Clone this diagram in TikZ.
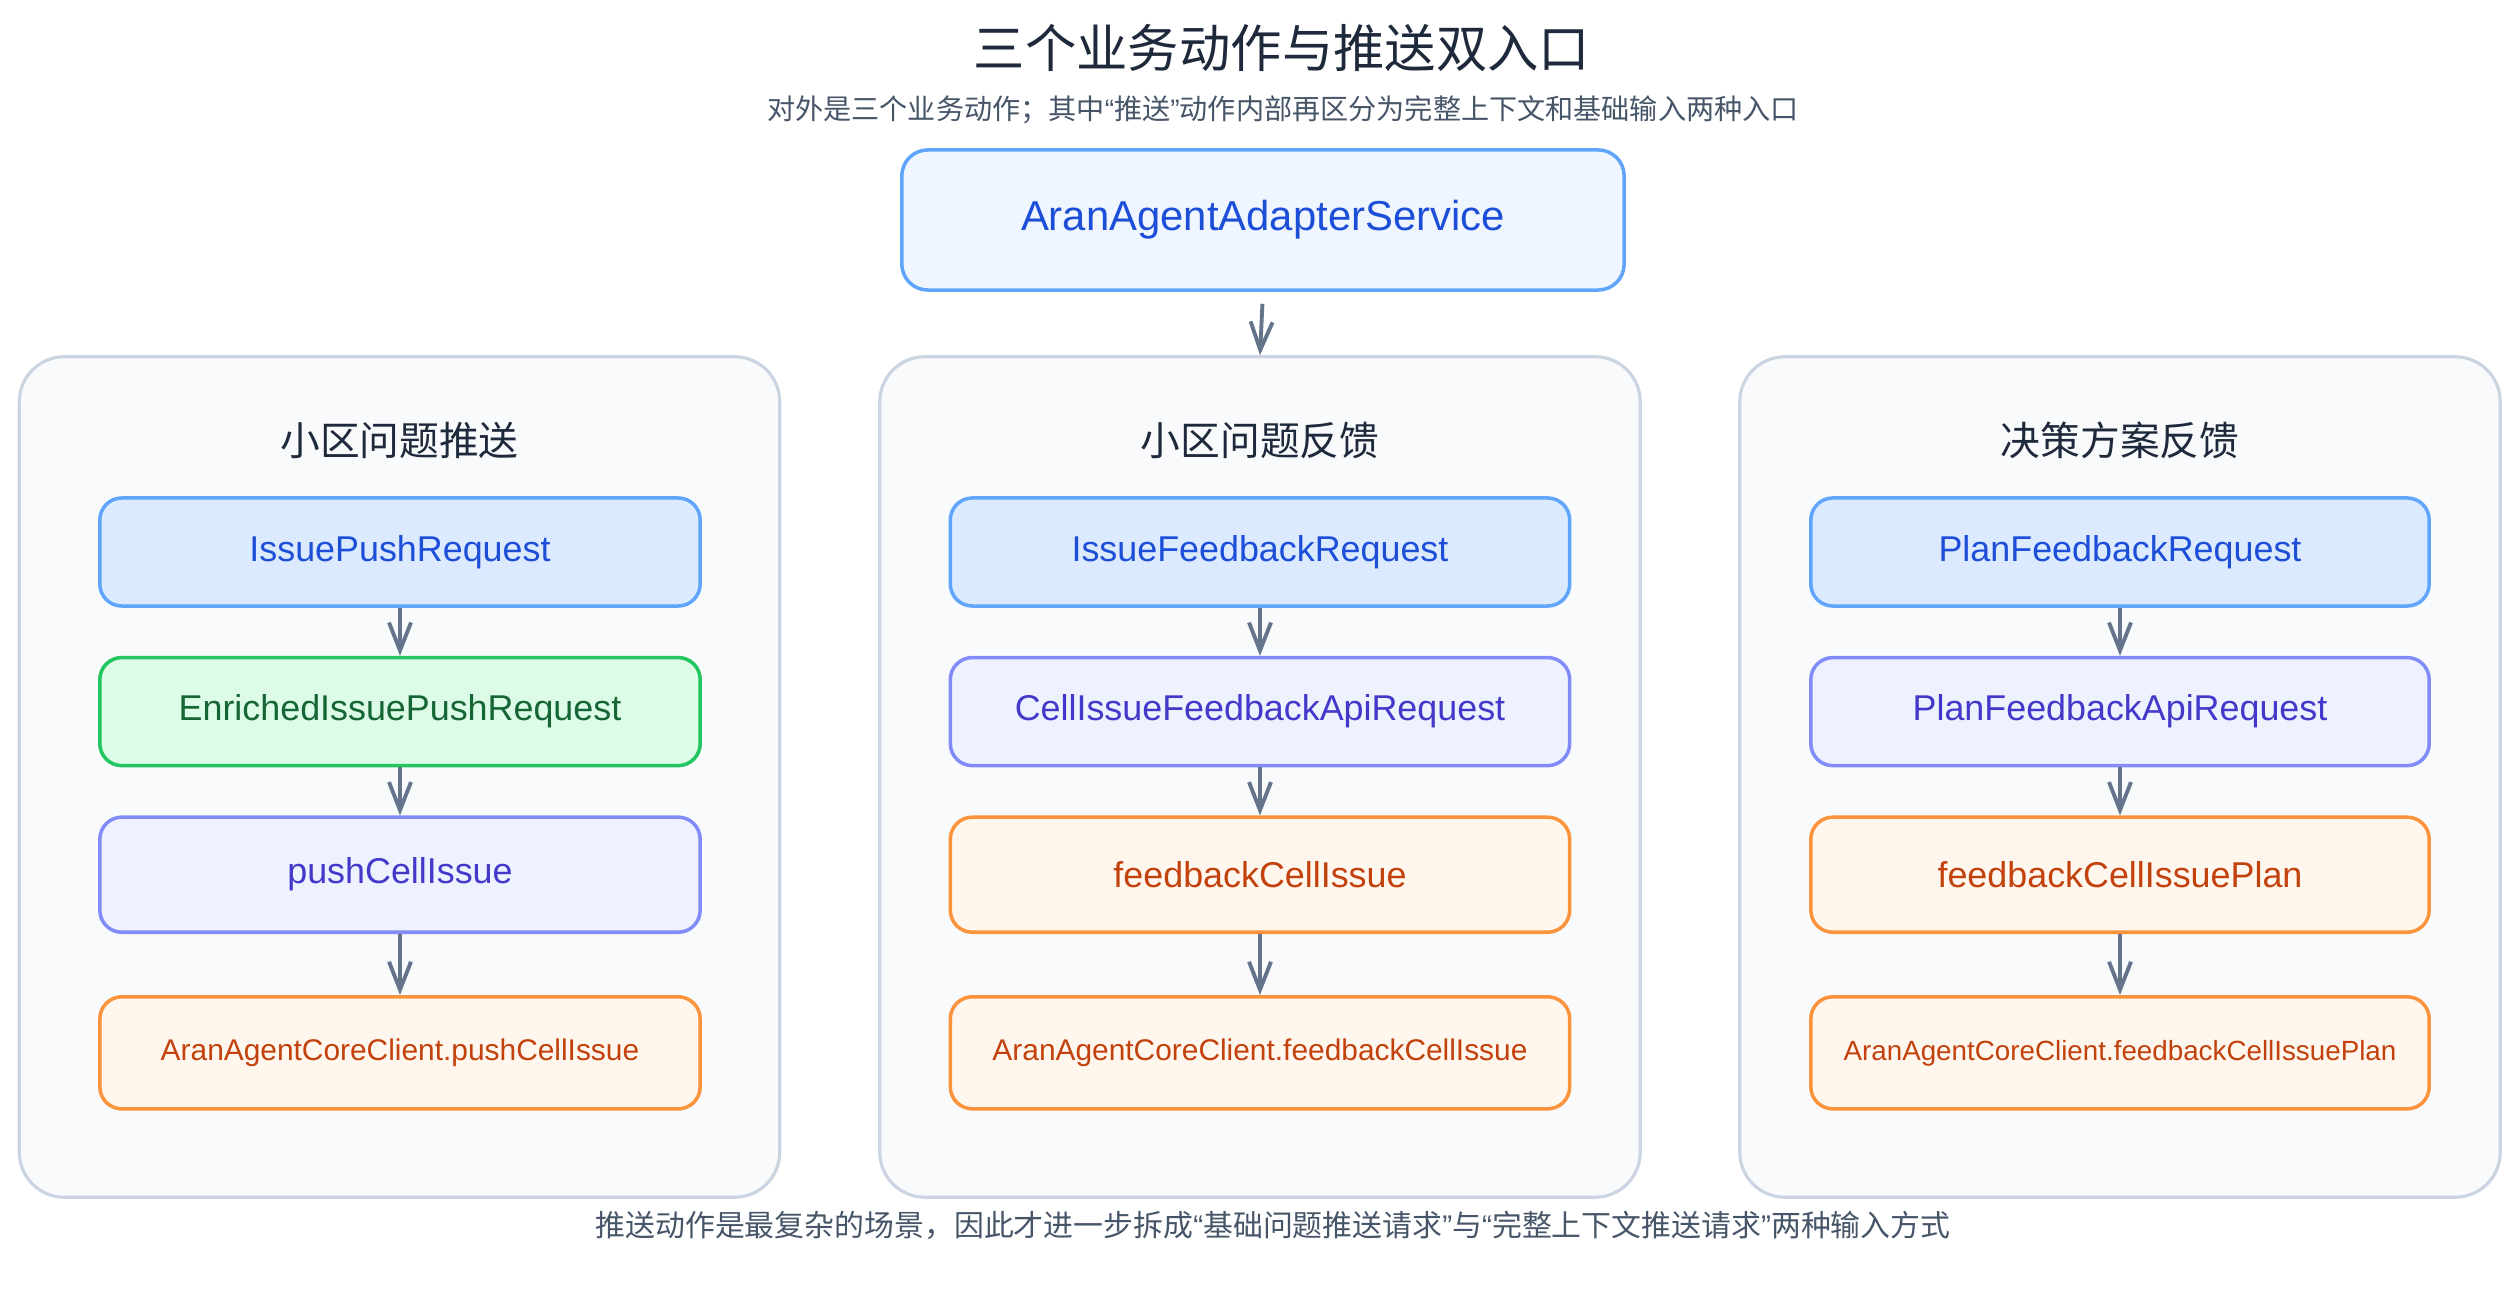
\documentclass[tikz,border=0pt]{standalone}
\usepackage{fontspec}
\setmainfont{Liberation Sans}
\newfontfamily\cjk{Noto Sans CJK SC}
\usetikzlibrary{positioning,arrows.meta}
\definecolor{svcfill}{HTML}{EFF6FF}
\definecolor{bluedraw}{HTML}{60A5FA}
\definecolor{bluetext}{HTML}{1D4ED8}
\definecolor{reqfill}{HTML}{DBEAFE}
\definecolor{greenfill}{HTML}{DCFCE7}
\definecolor{greendraw}{HTML}{22C55E}
\definecolor{greentext}{HTML}{166534}
\definecolor{apifill}{HTML}{EEF2FF}
\definecolor{apidraw}{HTML}{818CF8}
\definecolor{apitext}{HTML}{4338CA}
\definecolor{orfill}{HTML}{FFF7ED}
\definecolor{ordraw}{HTML}{FB923C}
\definecolor{ortext}{HTML}{C2410C}
\definecolor{panelfill}{HTML}{F8FAFC}
\definecolor{paneldraw}{HTML}{CBD5E1}
\definecolor{arrowgray}{HTML}{64748B}
\definecolor{titlegray}{HTML}{1E293B}
\definecolor{notegray}{HTML}{475569}
\newcommand{\zhq}[1]{{\rmfamily “}#1{\rmfamily ”}}

\begin{document}
\begin{tikzpicture}[
	x=0.01cm,
	y=-0.01cm,
	node distance=0.48cm
]
\tikzset{
    basebox/.style = {rectangle, rounded corners=2.2mm, align=center, line width=1pt, minimum height=1.08cm},
    svcbox/.style = {basebox, draw=bluedraw, fill=svcfill, text=bluetext, rounded corners=2.6mm, font=\fontsize{11.9}{14}\selectfont},
    reqbox/.style = {basebox, draw=bluedraw, fill=reqfill, text=bluetext, font=\fontsize{10.2}{12}\selectfont},
    richbox/.style = {basebox, draw=greendraw, fill=greenfill, text=greentext, font=\fontsize{10.2}{12}\selectfont},
    apibox/.style = {basebox, draw=apidraw, fill=apifill, text=apitext, font=\fontsize{10.2}{12}\selectfont},
    callbox/.style = {basebox, draw=ordraw, fill=orfill, text=ortext, font=\fontsize{10.2}{12}\selectfont},
    clientbox/.style = {basebox, draw=ordraw, fill=orfill, text=ortext, minimum height=1.12cm, font=\fontsize{8.5}{10}\selectfont},
    panel/.style = {rectangle, draw=paneldraw, fill=panelfill, line width=0.9pt, rounded corners=4.5mm, minimum width=7.6cm, minimum height=8.4cm},
    paneltitle/.style = {text=titlegray, font=\cjk\fontsize{11.3}{13}\selectfont},
    flow/.style = {draw=arrowgray, line width=1.1pt, -{Straight Barb[length=2.8mm, width=2.2mm]}},
}

    \fill[white] (0,0) rectangle (2520,1310);
    \useasboundingbox (0,0) rectangle (2520,1310);

    % heading
    \node (title) [text=titlegray, font=\cjk\fontsize{14.6}{17}\selectfont] at (1282,48) {三个业务动作与推送双入口};
    \node (sub) [text=notegray, font=\cjk\fontsize{8}{10}\selectfont] at (1283,110)
        {对外是三个业务动作；其中\zhq{推送}动作内部再区分为完整上下文和基础输入两种入口};
    \node (svc) [svcbox, minimum width=7.22cm, minimum height=1.4cm] at (1263,220) {AranAgentAdapterService};

    % the three actions
    \node (pL) [panel] at (399.5,777) {};
    \node (pM) [panel] at (1260,777) {};
    \node (pR) [panel] at (2120,777) {};
    \node (tL) [paneltitle] at (399.5,440) {小区问题推送};
    \node (tM) [paneltitle] at (1260,440) {小区问题反馈};
    \node (tR) [paneltitle] at (2120,440) {决策方案反馈};

    \draw[flow, shorten <=1.2mm] (svc.south) -- (pM.north);

    % push
    \node (l1) [reqbox, minimum width=6cm] at (400,552) {IssuePushRequest};
    \node (l2) [richbox, minimum width=6cm, below=of l1] {EnrichedIssuePushRequest};
    \node (l3) [apibox, minimum width=6cm, minimum height=1.15cm, below=of l2] {pushCellIssue};
    \node (l4) [clientbox, minimum width=6cm, below=0.61cm of l3] {AranAgentCoreClient.pushCellIssue};

    % issue feedback
    \node (m1) [reqbox, minimum width=6.19cm] at (1260,552) {IssueFeedbackRequest};
    \node (m2) [apibox, minimum width=6.19cm, below=of m1] {CellIssueFeedbackApiRequest};
    \node (m3) [callbox, minimum width=6.19cm, minimum height=1.15cm, below=of m2] {feedbackCellIssue};
    \node (m4) [clientbox, minimum width=6.19cm, below=0.61cm of m3] {AranAgentCoreClient.feedbackCellIssue};

    % plan feedback
    \node (r1) [reqbox, minimum width=6.18cm] at (2120,552) {PlanFeedbackRequest};
    \node (r2) [apibox, minimum width=6.18cm, below=of r1] {PlanFeedbackApiRequest};
    \node (r3) [callbox, minimum width=6.18cm, minimum height=1.15cm, below=of r2] {feedbackCellIssuePlan};
    \node (r4) [clientbox, minimum width=6.18cm, font=\fontsize{7.9}{10}\selectfont, below=0.61cm of r3] {AranAgentCoreClient.feedbackCellIssuePlan};

    \draw[flow] (l1) -- (l2);
    \draw[flow] (l2) -- (l3);
    \draw[flow] (l3) -- (l4);
    \draw[flow] (m1) -- (m2);
    \draw[flow] (m2) -- (m3);
    \draw[flow] (m3) -- (m4);
    \draw[flow] (r1) -- (r2);
    \draw[flow] (r2) -- (r3);
    \draw[flow] (r3) -- (r4);

    \node (note) [text=notegray, font=\cjk\fontsize{8.5}{10}\selectfont] at (1273,1225)
        {推送动作是最复杂的场景，因此才进一步拆成\zhq{基础问题推送请求}与\zhq{完整上下文推送请求}两种输入方式};
\end{tikzpicture}
\end{document}
